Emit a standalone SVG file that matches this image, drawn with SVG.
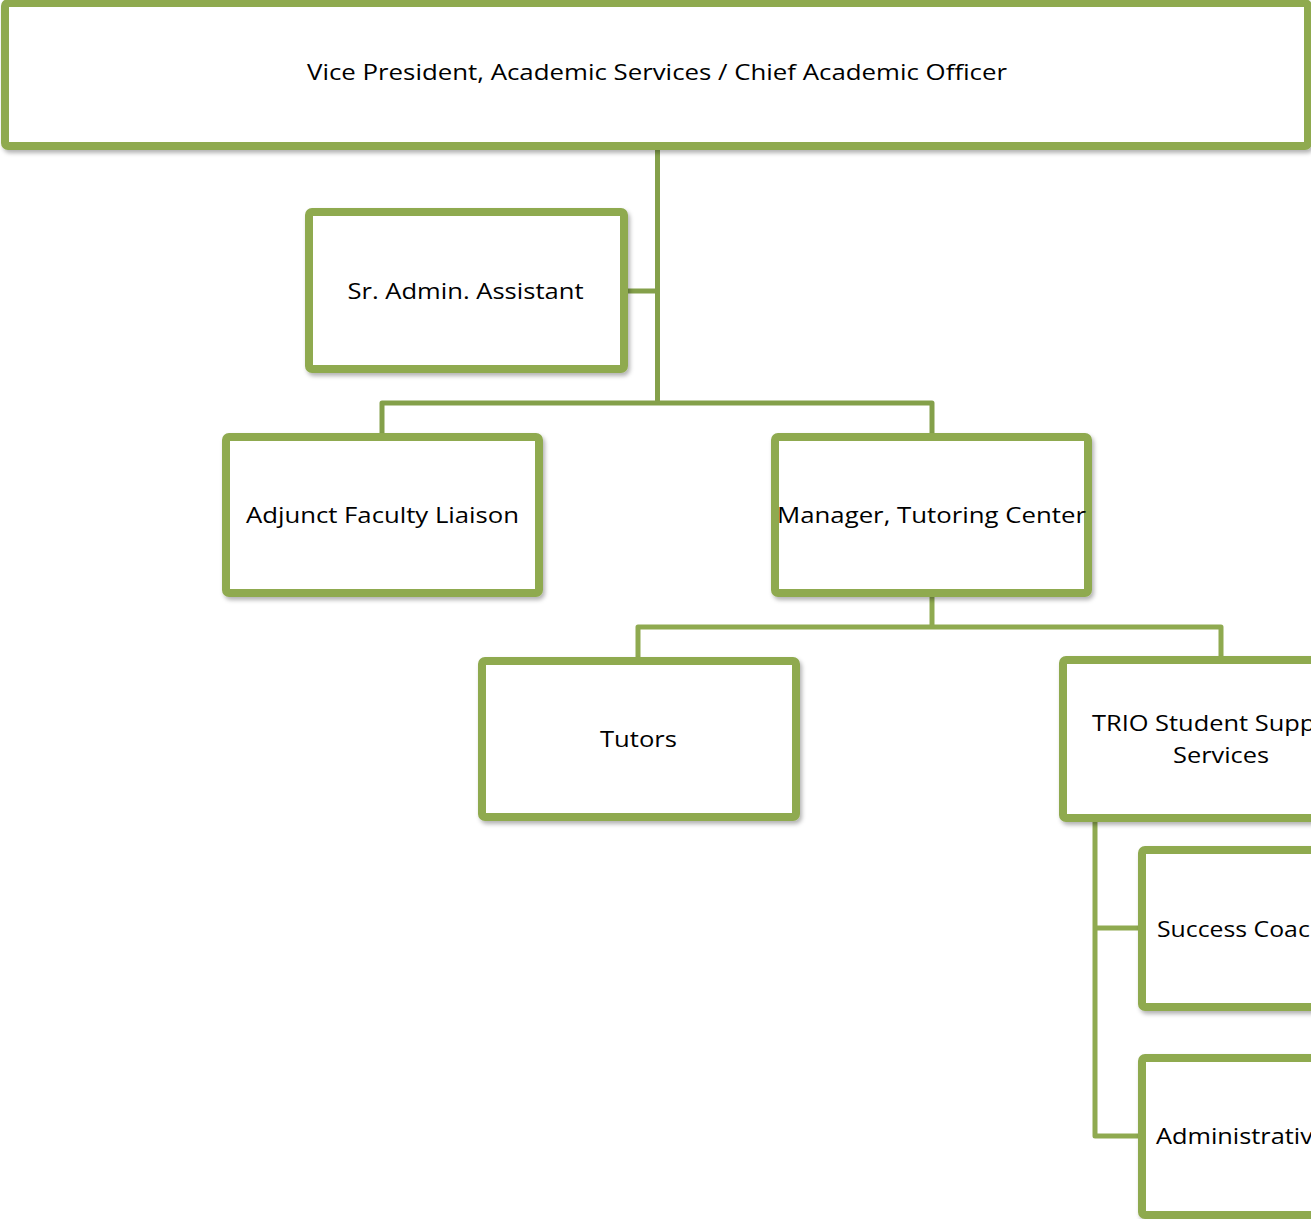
<svg xmlns="http://www.w3.org/2000/svg" width="1311" height="1219" viewBox="0 0 1311 1219">
  <style>
    .box { fill: #ffffff; stroke: #8FAA50; stroke-width: 8; filter: url(#shadow); }
    .conn { fill: none; stroke: #8FAA50; stroke-width: 5; stroke-linejoin: round; }
    .conn-top { stroke: #84A04A; }
    .lbl { font-family: "Open Sans", "Liberation Sans", sans-serif; font-size: 21px; fill: #000000; }
  </style>
  <defs>
    <filter id="shadow" x="-5%" y="-5%" width="115%" height="120%">
      <feDropShadow dx="2" dy="3" stdDeviation="2" flood-color="#000000" flood-opacity="0.3"/>
    </filter>
  </defs>
  <rect x="0" y="0" width="1311" height="1219" fill="#ffffff"/>

  <g id="connectors">
    <path class="conn conn-top" d="M657.5 146 V403"/>
    <path class="conn conn-top" d="M624 291 H657.5"/>
    <path class="conn conn-top" d="M382 437 V403 H932 V437"/>
    <path class="conn" d="M932 593 V627"/>
    <path class="conn" d="M638 661 V627 H1221 V660"/>
    <path class="conn" d="M1095 818 V1136 H1142"/>
    <path class="conn" d="M1095 928 H1142"/>
  </g>

  <g id="node-vp">
    <rect class="box" x="5" y="3" width="1303" height="143" rx="3"/>
    <text class="lbl" x="657" y="80" text-anchor="middle" textLength="700" lengthAdjust="spacingAndGlyphs">Vice President, Academic Services / Chief Academic Officer</text>
  </g>

  <g id="node-sr-admin">
    <rect class="box" x="309" y="212" width="315" height="157" rx="3"/>
    <text class="lbl" x="465.5" y="299" text-anchor="middle" textLength="236" lengthAdjust="spacingAndGlyphs">Sr. Admin. Assistant</text>
  </g>

  <g id="node-adjunct">
    <rect class="box" x="226" y="437" width="313" height="156" rx="3"/>
    <text class="lbl" x="382.5" y="523" text-anchor="middle" textLength="273" lengthAdjust="spacingAndGlyphs">Adjunct Faculty Liaison</text>
  </g>

  <g id="node-manager">
    <rect class="box" x="775" y="437" width="313" height="156" rx="3"/>
    <text class="lbl" x="931.5" y="523" text-anchor="middle" textLength="309" lengthAdjust="spacingAndGlyphs">Manager, Tutoring Center</text>
  </g>

  <g id="node-tutors">
    <rect class="box" x="482" y="661" width="314" height="156" rx="3"/>
    <text class="lbl" x="638.5" y="747" text-anchor="middle" textLength="77" lengthAdjust="spacingAndGlyphs">Tutors</text>
  </g>

  <g id="node-trio">
    <rect class="box" x="1063" y="660" width="315" height="158" rx="3"/>
    <text class="lbl" x="1221" y="731" text-anchor="middle" textLength="258" lengthAdjust="spacingAndGlyphs">TRIO Student Support</text>
    <text class="lbl" x="1221" y="763" text-anchor="middle" textLength="96" lengthAdjust="spacingAndGlyphs">Services</text>
  </g>

  <g id="node-success">
    <rect class="box" x="1142" y="850" width="315" height="157" rx="3"/>
    <text class="lbl" x="1157" y="937" textLength="168" lengthAdjust="spacingAndGlyphs">Success Coach</text>
  </g>

  <g id="node-administrative">
    <rect class="box" x="1142" y="1058" width="315" height="157" rx="3"/>
    <text class="lbl" x="1156" y="1144" textLength="171" lengthAdjust="spacingAndGlyphs">Administrative</text>
  </g>
</svg>
